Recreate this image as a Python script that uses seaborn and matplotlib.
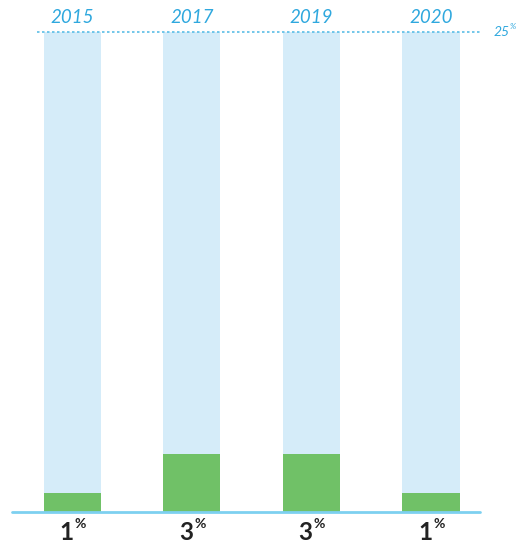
import pandas as pd
import numpy as np
import matplotlib
matplotlib.use('Agg')
import matplotlib.pyplot as plt
import seaborn as sns

# data
years = ['2015', '2017', '2019', '2020']
shares = [1, 3, 3, 1]          # percent
scale_max = 25                 # top of the scale, percent

df = pd.DataFrame({'year': years, 'share': shares, 'full': [scale_max] * len(years)})

sns.set_theme(style='white')
plt.rcParams['font.family'] = ['Lato', 'DejaVu Sans']

fig = plt.figure(figsize=(5.29, 5.45), dpi=100)
ax = fig.add_axes([12 / 529, 33 / 545, 468 / 529, 480 / 545])

# background bars (full scale) and the actual values
sns.barplot(data=df, x='year', y='full', color='#D5ECF9', width=0.477,
            saturation=1, linewidth=0, ax=ax, zorder=1)
sns.barplot(data=df, x='year', y='share', color='#70C167', width=0.477,
            saturation=1, linewidth=0, ax=ax, zorder=2)

ax.set_xlim(-0.506, 3.41)
ax.set_ylim(0, scale_max)
ax.axis('off')

# baseline and dotted top line
ax.axhline(0, color='#7DD0F0', lw=2, zorder=3, clip_on=False)
ax.axhline(scale_max, xmin=0.053, xmax=1.0, color='#5BBDE6', lw=1.2,
           ls=(0, (1.5, 1.5)), zorder=3, clip_on=False)
ax.text(3.52, scale_max - 0.2, '25', color='#2FA8DE', fontsize=10, style='italic',
        ha='left', va='baseline', clip_on=False)
ax.text(3.655, scale_max + 0.15, '%', color='#2FA8DE', fontsize=6, style='italic',
        ha='left', va='baseline', clip_on=False)

for i, (yr, v) in enumerate(zip(years, shares)):
    ax.text(i, scale_max + 0.45, yr, color='#2FA8DE', fontsize=13.5, style='italic',
            ha='center', va='baseline', clip_on=False)
    ax.text(i + 0.01, -1.45, str(v), color='#222222', fontsize=17.5, fontweight='bold',
            ha='right', va='baseline', clip_on=False)
    ax.text(i + 0.02, -0.85, '%', color='#222222', fontsize=10, fontweight='bold',
            ha='left', va='baseline', clip_on=False)

fig.savefig('out.png', dpi=100)
